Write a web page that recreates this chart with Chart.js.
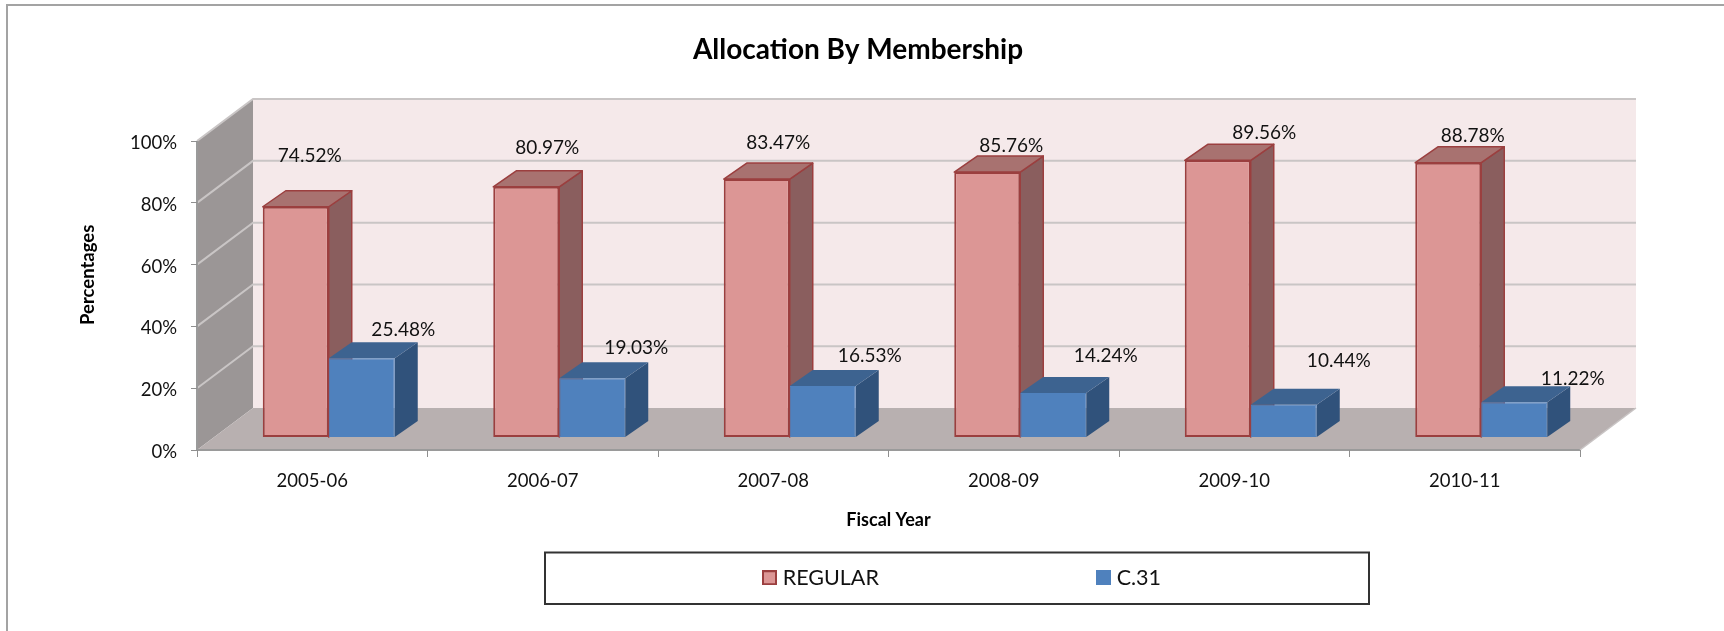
<!DOCTYPE html>
<html>
<head>
<meta charset="utf-8">
<style>html,body{margin:0;padding:0;background:#fff}canvas{display:block}</style>
<script src="https://cdn.jsdelivr.net/npm/chart.js@4/dist/chart.umd.js"></script>
</head>
<body>
<canvas id="c" width="1724" height="631"></canvas>
<script>
const categories = ['2005-06','2006-07','2007-08','2008-09','2009-10','2010-11'];
const regularValues = [74.52,80.97,83.47,85.76,89.56,88.78];
const c31Values = [25.48,19.03,16.53,14.24,10.44,11.22];

// Styling / placement (separate from data)
const FONT = 'Lato';
const PX_PER_PCT = 3.086, AREA_BOTTOM_GAP = 13, AREA_H = 350, TOP_GAP = 337;
const WALL_DX = 56, WALL_DY = 42, BAR_DX = 23, BAR_DY = 16, BAR_SHIFT = 16.5 / 230.5;
const regularNudge = [[14,-51],[21,-39],[21.5,-36],[24,-26],[46.5,-27],[24.5,-27]];
const c31Nudge = [[41.5,-28],[44,-30],[47,-30],[52.5,-37],[55,-44],[58.5,-23]];
const styles = [
  {front:'#dc9695', edge:'#9b3f3f', top:'#a87270', side:'#8a5e5e', nudge:regularNudge},
  {front:'#4f81bd', edge:'#4f81bd', top:'#3d6390', side:'#30527b', nudge:c31Nudge}
];

function poly(ctx, pts, fill, stroke, lw){
  ctx.beginPath();
  pts.forEach((p,i)=> i ? ctx.lineTo(p[0],p[1]) : ctx.moveTo(p[0],p[1]));
  ctx.closePath();
  ctx.fillStyle = fill; ctx.fill();
  if (stroke){ ctx.strokeStyle = stroke; ctx.lineWidth = lw; ctx.stroke(); }
}
function swatch(s){
  const cv = document.createElement('canvas'); cv.width = 15; cv.height = 15;
  const g = cv.getContext('2d');
  g.fillStyle = s.edge; g.fillRect(0,0,15,15);
  g.fillStyle = s.front; g.fillRect(2,2,11,11);
  return cv;
}

const scene = {
  id:'scene',
  afterLayout(chart){
    const lg = chart.legend, pad = lg.options.labels.padding;
    lg.left = 762 + 5 - pad; lg.right = 1724;
    lg.top = 578 - 11 - pad; lg.bottom = 631;
    chart.titleBlock.left = 0; chart.titleBlock.right = 1716;
  },
  beforeDraw(chart){
    const {ctx} = chart, a = chart.chartArea, y = chart.scales.yAxis;
    ctx.save();
    ctx.fillStyle = '#a3a3a3';
    ctx.fillRect(6,4,1718,2); ctx.fillRect(6,4,2,627);
    ctx.strokeStyle = '#333'; ctx.lineWidth = 2;
    ctx.strokeRect(545,552.5,824,51.5);
    const L=a.left, R=a.right, B=a.bottom, T=y.getPixelForValue(100);
    poly(ctx,[[L+WALL_DX,B-WALL_DY],[R+WALL_DX,B-WALL_DY],[R+WALL_DX,T-WALL_DY],[L+WALL_DX,T-WALL_DY]],'#f5e9ea');
    poly(ctx,[[L,B],[L+WALL_DX,B-WALL_DY],[L+WALL_DX,T-WALL_DY],[L,T]],'#9b9696');
    poly(ctx,[[L,B],[R,B],[R+WALL_DX,B-WALL_DY],[L+WALL_DX,B-WALL_DY]],'#b8b0b0');
    ctx.lineWidth = 2; ctx.strokeStyle = '#c9c5c5';
    y.ticks.forEach(t=>{
      if (t.value === 0) return;
      const p = y.getPixelForValue(t.value);
      ctx.beginPath(); ctx.moveTo(L,p); ctx.lineTo(L+WALL_DX,p-WALL_DY); ctx.lineTo(R+WALL_DX,p-WALL_DY); ctx.stroke();
    });
    ctx.strokeStyle = '#9a9a9a'; ctx.lineWidth = 2;
    ctx.beginPath(); ctx.moveTo(L,T); ctx.lineTo(L,B); ctx.lineTo(R,B); ctx.stroke();
    ctx.strokeStyle = '#c9c5c5'; ctx.lineWidth = 1.5;
    ctx.beginPath(); ctx.moveTo(R,B); ctx.lineTo(R+WALL_DX,B-WALL_DY); ctx.stroke();
    ctx.restore();
  },
  beforeDatasetsDraw(chart){
    const {ctx} = chart;
    ctx.save(); ctx.lineJoin = 'round';
    const n = chart.data.labels.length;
    for (let i=0;i<n;i++){
      [0,1].forEach(d=>{
        const el = chart.getDatasetMeta(d).data[i], s = styles[d];
        const l=el.x-el.width/2, r=el.x+el.width/2, t=el.y, b=el.base;
        const e = d===0 ? s.edge : null;
        poly(ctx,[[r,t],[r+BAR_DX,t-BAR_DY],[r+BAR_DX,b-BAR_DY],[r,b]],s.side,e,1.5);
        poly(ctx,[[l,t],[r,t],[r+BAR_DX,t-BAR_DY],[l+BAR_DX,t-BAR_DY]],s.top,e,1.5);
      });
    }
    ctx.restore();
  },
  afterDatasetsDraw(chart){
    const {ctx} = chart;
    ctx.save();
    ctx.font = '19px '+FONT; ctx.fillStyle = '#111';
    ctx.textAlign = 'center'; ctx.textBaseline = 'middle';
    chart.data.datasets.forEach((ds,d)=>{
      chart.getDatasetMeta(d).data.forEach((el,i)=>{
        const [nx,ny] = styles[d].nudge[i];
        ctx.fillText(ds.data[i].y.toFixed(2)+'%', el.x+nx, el.y+ny);
      });
    });
    ctx.restore();
  }
};

new Chart(document.getElementById('c'), {
  type:'bar',
  data:{
    labels:categories,
    datasets:[
      {label:'REGULAR', data:regularValues.map((v,i)=>({x:i,y:v})), xAxisID:'xBars', yAxisID:'yBars',
       backgroundColor:styles[0].front, borderColor:styles[0].edge, borderWidth:2, borderSkipped:false},
      {label:'C.31', data:c31Values.map((v,i)=>({x:i,y:v})), xAxisID:'xBars', yAxisID:'yBars',
       backgroundColor:styles[1].front, borderColor:styles[1].edge, borderWidth:1, borderSkipped:false}
    ]
  },
  options:{
    responsive:false, animation:false, devicePixelRatio:1,
    categoryPercentage:0.5727, barPercentage:1,
    layout:{padding:{left:0,right:144,top:0,bottom:0}},
    font:{family:FONT},
    scales:{
      x:{type:'category', position:'bottom', offset:true,
        grid:{offset:true, drawOnChartArea:false, drawTicks:true, tickLength:7, color:'#8f8f8f'},
        border:{display:false},
        ticks:{color:'#111', padding:13, maxRotation:0, autoSkip:false, font:{family:FONT,size:18.5}},
        title:{display:true, text:'Fiscal Year', color:'#000', font:{family:FONT,size:18,weight:'bold'}, padding:{top:0,bottom:70}},
        afterFit(s){ s.height = 151; }
      },
      xBars:{type:'linear', axis:'x', position:'bottom', display:false, offset:false, min:-0.5-BAR_SHIFT, max:5.5-BAR_SHIFT},
      yBars:{type:'linear', position:'left', display:false, min:-AREA_BOTTOM_GAP/PX_PER_PCT, max:TOP_GAP/PX_PER_PCT},
      yAxis:{type:'linear', position:'left', min:0, max:AREA_H/PX_PER_PCT,
        grid:{drawOnChartArea:false, tickLength:6, color:'#8f8f8f'},
        border:{display:false},
        ticks:{stepSize:20, color:'#111', padding:14, labelOffset:2, font:{family:FONT,size:18.5}, callback:v=>v+'%'},
        afterBuildTicks(s){ s.ticks = s.ticks.filter(t=>t.value<=100); },
        title:{display:true, text:'Percentages', color:'#000', font:{family:FONT,size:18.5,weight:'bold'}, padding:{top:77,bottom:0}},
        afterFit(s){ s.width = 197; }
      }
    },
    plugins:{
      title:{display:true, text:'Allocation By Membership', color:'#000', font:{family:FONT,size:28,weight:'bold'}, padding:{top:33,bottom:33}},
      tooltip:{enabled:false},
      legend:{display:true, position:'bottom', align:'start', maxHeight:30,
        labels:{color:'#111', font:{family:FONT,size:21.5}, padding:222, usePointStyle:true, pointStyleWidth:5,
          generateLabels(chart){
            return Chart.defaults.plugins.legend.labels.generateLabels(chart)
              .map((it,i)=>({...it, pointStyle:swatch(styles[i])}));
          }}
      }
    }
  },
  plugins:[scene]
});
</script>
</body>
</html>
